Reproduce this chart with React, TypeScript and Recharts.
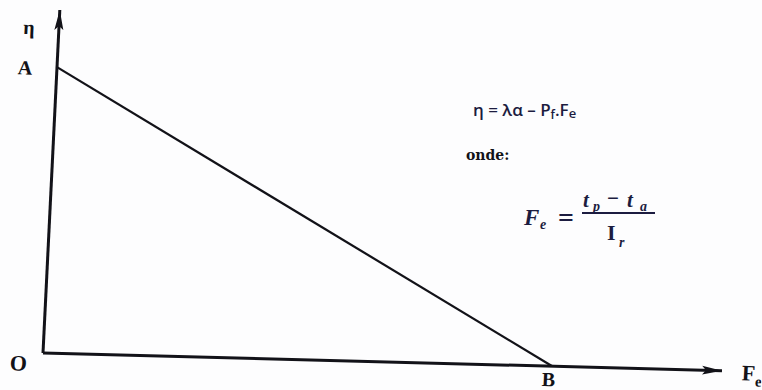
import { LineChart, Line, XAxis, YAxis, ReferenceDot } from "recharts";

// efficiency falls linearly from A (F_e = 0) to B (eta = 0)
const feValues = [0, 3];
const etaValues = [1, 0];
const feDomain = [0, 4];
const etaDomain = [0, 1.2];

const lineData = feValues.map((fe, i) => ({ fe, eta: etaValues[i] }));

const ink = "#121218";
const navy = "#1c1c40";
const serif = "'Liberation Serif', 'Times New Roman', serif";

function tag(text: string, dx: number, dy: number, size = 20) {
  return ({ cx, cy }: any) => (
    <text
      x={cx + dx}
      y={cy + dy}
      textAnchor="middle"
      fontFamily={serif}
      fontWeight="bold"
      fontSize={size}
      fill={ink}
    >
      {text}
    </text>
  );
}

function FeTag({ cx, cy }: any) {
  return (
    <text x={cx + 20} y={cy + 9} fontFamily={serif} fontWeight="bold" fontSize={22} fill={ink}>
      F
      <tspan fontSize={15} dy={6}>
        e
      </tspan>
    </text>
  );
}

function Formulas() {
  return (
    <svg
      width={762}
      height={390}
      style={{ position: "absolute", left: 0, top: 0, pointerEvents: "none" }}
    >
      <text x={473} y={116} fontFamily="'Open Sans', sans-serif" fontWeight={600} fontSize={17} fill={navy}>
        η = λα – P
        <tspan fontSize={12} dy={3}>f</tspan>
        <tspan dy={-3}>.F</tspan>
        <tspan fontSize={13} dy={2}>e</tspan>
      </text>
      <text x={466} y={160} fontFamily="'DejaVu Serif', serif" fontWeight="bold" fontSize={14} fill={ink}>
        onde:
      </text>
      <g fontFamily={serif} fontWeight="bold" fill={navy}>
        <text x={524} y={225} fontSize={23} fontStyle="italic">F</text>
        <text x={540} y={229} fontSize={14} fontStyle="italic">e</text>
        <text x={558} y={227} fontSize={28}>=</text>
        <text x={583} y={207} fontSize={21} fontStyle="italic">t</text>
        <text x={593} y={211} fontSize={14} fontStyle="italic">p</text>
        <text x={607} y={205} fontSize={21}>−</text>
        <text x={627} y={207} fontSize={21} fontStyle="italic">t</text>
        <text x={640} y={211} fontSize={14} fontStyle="italic">a</text>
        <line x1={582} y1={213} x2={655} y2={213} stroke={navy} strokeWidth={2} />
        <text x={607} y={240} fontSize={22}>I</text>
        <text x={619} y={247} fontSize={14} fontStyle="italic">r</text>
      </g>
    </svg>
  );
}

export default function App() {
  return (
    <div style={{ position: "relative", width: 762, height: 390, background: "#fdfdfe", overflow: "hidden" }}>
      <style>{"body{margin:0}"}</style>
      {/* the printed figure sits slightly askew, so the axes lean a little */}
      <div style={{ transform: "matrix(1, 0.026, -0.049, 1, 0, 0)", transformOrigin: "43px 353px" }}>
        <LineChart width={762} height={390} data={lineData} margin={{ top: 10, right: 40, bottom: 36, left: 42 }}>
          <defs>
            <marker
              id="arrow"
              viewBox="0 0 20 10"
              refX={20}
              refY={5}
              markerWidth={20}
              markerHeight={10}
              markerUnits="userSpaceOnUse"
              orient="auto-start-reverse"
            >
              <path d="M0,0.5 L20,5 L0,9.5 L4,5 Z" fill={ink} />
            </marker>
          </defs>
          <XAxis
            type="number"
            dataKey="fe"
            domain={feDomain}
            allowDataOverflow
            height={1}
            tick={false}
            tickLine={false}
            axisLine={{ stroke: ink, strokeWidth: 3, markerEnd: "url(#arrow)" }}
          />
          <YAxis
            type="number"
            domain={etaDomain}
            allowDataOverflow
            width={1}
            tick={false}
            tickLine={false}
            axisLine={{ stroke: ink, strokeWidth: 3, markerStart: "url(#arrow)" }}
          />
          <Line
            type="linear"
            dataKey="eta"
            stroke={ink}
            strokeWidth={2.2}
            dot={false}
            isAnimationActive={false}
          />
          <ReferenceDot x={0} y={etaDomain[1]} r={0} shape={tag("η", -30, 25)} />
          <ReferenceDot x={feValues[0]} y={etaValues[0]} r={0} shape={tag("A", -32, 8)} />
          <ReferenceDot x={0} y={0} r={0} shape={tag("O", -24, 18, 22)} />
          <ReferenceDot x={feValues[1]} y={etaValues[1]} r={0} shape={tag("B", -3, 20)} />
          <ReferenceDot x={feDomain[1]} y={0} r={0} shape={FeTag} />
        </LineChart>
      </div>
      <Formulas />
    </div>
  );
}
